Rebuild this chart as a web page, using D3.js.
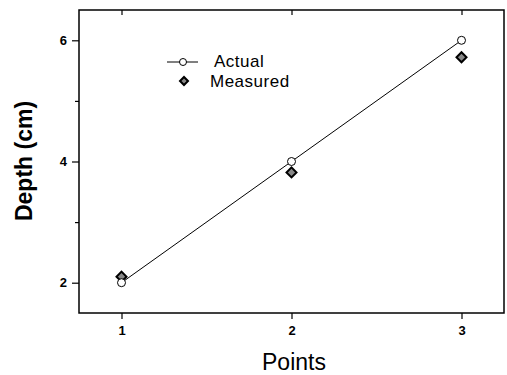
<!DOCTYPE html>
<html>
<head>
<meta charset="utf-8">
<script src="https://cdn.jsdelivr.net/npm/d3@7"></script>
<style>
  html, body { margin: 0; padding: 0; background: #fff; }
  svg { display: block; font-family: "Liberation Sans", Arial, sans-serif; }
</style>
</head>
<body>
<svg id="chart" width="507" height="375"></svg>
<script>
// Depth at each measurement point
const points = [1, 2, 3];
const actualDepth = [2.0, 4.0, 6.0];
const measuredDepth = [2.1, 3.82, 5.72];
const xTicks = [1, 2, 3];
const yTicks = [2, 4, 6];
const yMinorTicks = [3, 5];
const seriesNames = ["Actual", "Measured"];

const svg = d3.select("#chart");
const frame = { left: 79, right: 504, top: 10, bottom: 313 };

const x = d3.scaleLinear().domain([0.75, 3.25]).range([frame.left, frame.right]);
const y = d3.scaleLinear().domain([1.5, 6.5]).range([frame.bottom, frame.top]);

// Axes
const xAxis = svg.append("g")
  .attr("transform", `translate(0,${frame.bottom})`)
  .call(d3.axisBottom(x).tickValues(xTicks).tickFormat(d3.format("d")).tickSize(6).tickPadding(7));
const yAxis = svg.append("g")
  .attr("transform", `translate(${frame.left},0)`)
  .call(d3.axisLeft(y).tickValues(yTicks).tickFormat(d3.format("d")).tickSize(7).tickPadding(5));
svg.append("g")
  .attr("transform", `translate(${frame.left},0)`)
  .call(d3.axisLeft(y).tickValues(yMinorTicks).tickFormat("").tickSize(4))
  .select(".domain").remove();
svg.append("g")
  .attr("transform", `translate(0,${frame.top})`)
  .call(d3.axisBottom(x).tickValues(xTicks).tickFormat("").tickSize(5))
  .select(".domain").remove();

[xAxis, yAxis].forEach(g => {
  g.select(".domain").remove();
  g.selectAll("text")
    .attr("font-size", 13)
    .attr("font-weight", "bold")
    .attr("fill", "#000")
    .attr("font-family", "Liberation Sans, Arial, sans-serif");
});
svg.selectAll(".tick line").attr("stroke", "#000").attr("stroke-width", 1.2);

// Plot frame
svg.append("rect")
  .attr("x", frame.left).attr("y", frame.top)
  .attr("width", frame.right - frame.left).attr("height", frame.bottom - frame.top)
  .attr("fill", "none").attr("stroke", "#000").attr("stroke-width", 1.5);

// Actual series: line with open circles
const line = d3.line().x((d, i) => x(points[i])).y(d => y(d));
svg.append("path")
  .datum(actualDepth)
  .attr("d", line)
  .attr("fill", "none").attr("stroke", "#000").attr("stroke-width", 1);

const diamond = d3.symbol().type(d3.symbolSquare).size(50);
const smallDiamond = d3.symbol().type(d3.symbolSquare).size(32);

// Measured series: shaded diamonds
svg.append("g").selectAll("path")
  .data(measuredDepth)
  .join("path")
  .attr("d", diamond)
  .attr("transform", (d, i) => `translate(${x(points[i])},${y(d)}) rotate(45)`)
  .attr("fill", "#888").attr("stroke", "#000").attr("stroke-width", 2);

svg.append("g").selectAll("circle")
  .data(actualDepth)
  .join("circle")
  .attr("cx", (d, i) => x(points[i]))
  .attr("cy", d => y(d))
  .attr("r", 4)
  .attr("fill", "#fff").attr("stroke", "#000").attr("stroke-width", 1);

// Legend
const legend = svg.append("g");
legend.append("line")
  .attr("x1", 167).attr("x2", 198).attr("y1", 62).attr("y2", 62)
  .attr("stroke", "#000").attr("stroke-width", 1);
legend.append("circle")
  .attr("cx", 183).attr("cy", 62).attr("r", 3.5)
  .attr("fill", "#fff").attr("stroke", "#000");
legend.append("path")
  .attr("d", smallDiamond)
  .attr("transform", "translate(184,81) rotate(45)")
  .attr("fill", "#888").attr("stroke", "#000").attr("stroke-width", 2);
legend.append("text")
  .attr("x", 214).attr("y", 67)
  .attr("font-size", 17).attr("letter-spacing", 0.5)
  .text(seriesNames[0]);
legend.append("text")
  .attr("x", 210).attr("y", 87)
  .attr("font-size", 17).attr("letter-spacing", 0.5)
  .text(seriesNames[1]);

// Axis titles
svg.append("text")
  .attr("x", 294).attr("y", 370)
  .attr("text-anchor", "middle")
  .attr("font-size", 23)
  .text("Points");
svg.append("text")
  .attr("transform", "translate(32,161) rotate(-90)")
  .attr("text-anchor", "middle")
  .attr("font-size", 23)
  .attr("font-weight", "bold")
  .text("Depth (cm)");
</script>
</body>
</html>
